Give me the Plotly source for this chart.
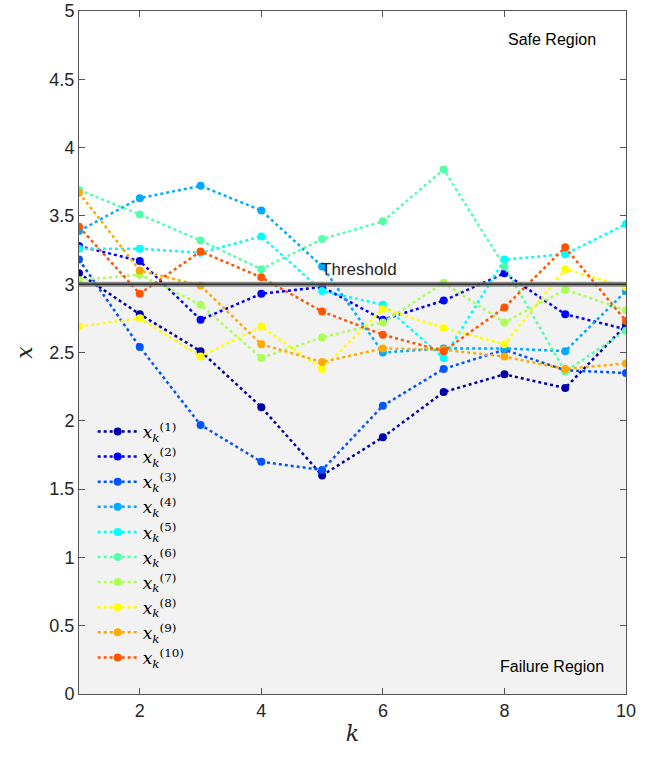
import plotly.graph_objects as go

k = list(range(1, 11))
x1 = [3.08, 2.78, 2.51, 2.10, 1.60, 1.88, 2.21, 2.34, 2.24, 2.70]
x2 = [3.28, 3.17, 2.74, 2.93, 2.98, 2.74, 2.88, 3.08, 2.78, 2.67]
x3 = [3.18, 2.54, 1.97, 1.70, 1.64, 2.11, 2.38, 2.52, 2.37, 2.35]
x4 = [3.39, 3.63, 3.72, 3.54, 3.13, 2.50, 2.53, 2.53, 2.51, 2.95]
x5 = [3.26, 3.26, 3.23, 3.35, 2.95, 2.85, 2.46, 3.18, 3.22, 3.44]
x6 = [3.69, 3.51, 3.32, 3.11, 3.33, 3.46, 3.84, 3.13, 2.36, 2.66]
x7 = [3.03, 3.07, 2.85, 2.46, 2.61, 2.72, 3.01, 2.72, 2.96, 2.81]
x8 = [2.69, 2.75, 2.47, 2.69, 2.38, 2.82, 2.68, 2.56, 3.11, 2.98]
x9 = [3.67, 3.10, 2.99, 2.56, 2.43, 2.53, 2.52, 2.47, 2.38, 2.42]
x10 = [3.42, 2.93, 3.24, 3.05, 2.80, 2.63, 2.51, 2.83, 3.27, 2.73]
series = [x1, x2, x3, x4, x5, x6, x7, x8, x9, x10]
colors = ["#0000AA", "#0000FF", "#0055FF", "#00AAFF", "#00FFFF",
          "#55FFAA", "#AAFF55", "#FFFF00", "#FFAA00", "#FF5500"]
threshold = 3
yticks = [0, 0.5, 1, 1.5, 2, 2.5, 3, 3.5, 4, 4.5, 5]
yticklabels = ["0", "0.5", "1", "1.5", "2", "2.5", "3", "3.5", "4", "4.5", "5"]
xticks = [2, 4, 6, 8, 10]

fig = go.Figure()
for i, (s, c) in enumerate(zip(series, colors), start=1):
    fig.add_trace(go.Scatter(
        x=k, y=s, mode="lines+markers",
        line=dict(color=c, width=2.5, dash="dot"),
        marker=dict(color=c, size=8),
        name=f"<i>x</i><sub><i>k</i></sub><sup>({i})</sup>",
    ))

fig.add_shape(type="rect", xref="x domain", yref="y", x0=0, x1=1, y0=0, y1=threshold,
              fillcolor="#f2f2f2", line=dict(width=0), layer="below")
fig.add_shape(type="line", xref="x domain", yref="y", x0=0, x1=1, y0=threshold, y1=threshold,
              line=dict(color="rgba(110,110,110,0.8)", width=5), layer="above")
fig.add_shape(type="line", xref="x domain", yref="y", x0=0, x1=1, y0=threshold, y1=threshold,
              line=dict(color="#333333", width=1.5), layer="above")

font = "Liberation Sans, Arial, sans-serif"
fig.add_annotation(x=5.6, y=3.11, text="Threshold", showarrow=False,
                   font=dict(family=font, size=17, color="#262626"))
fig.add_annotation(x=8.78, y=4.79, text="Safe Region", showarrow=False,
                   font=dict(family=font, size=16, color="#000000"))
fig.add_annotation(x=8.78, y=0.20, text="Failure Region", showarrow=False,
                   font=dict(family=font, size=16, color="#000000"))

axis_common = dict(showline=True, linecolor="#555555", linewidth=1, mirror="allticks",
                   ticks="inside", ticklen=6, tickcolor="#555555", showgrid=False,
                   zeroline=False, ticklabeloverflow="allow", automargin=False,
                   tickfont=dict(family=font, size=18, color="#262626"))
fig.update_xaxes(range=[1, 10], tickvals=xticks,
                 title=dict(text="<i>k</i>", font=dict(family="DejaVu Serif, serif", size=22, color="#262626"), standoff=6),
                 **axis_common)
fig.update_yaxes(range=[0, 5], tickvals=yticks, ticktext=yticklabels,
                 title=dict(text="<i>x</i>", font=dict(family="DejaVu Serif, serif", size=22, color="#262626"), standoff=10),
                 **axis_common)

fig.update_layout(
    width=661, height=757,
    margin=dict(l=79, r=35, t=11, b=63, autoexpand=False),
    plot_bgcolor="white", paper_bgcolor="white",
    legend=dict(x=0.025, y=0.41, xanchor="left", yanchor="top",
                bgcolor="rgba(0,0,0,0)", borderwidth=0,
                font=dict(family="DejaVu Serif, serif", size=17, color="#000000"),
                itemwidth=40),
    font=dict(family=font),
)
fig.write_html("out.html")
